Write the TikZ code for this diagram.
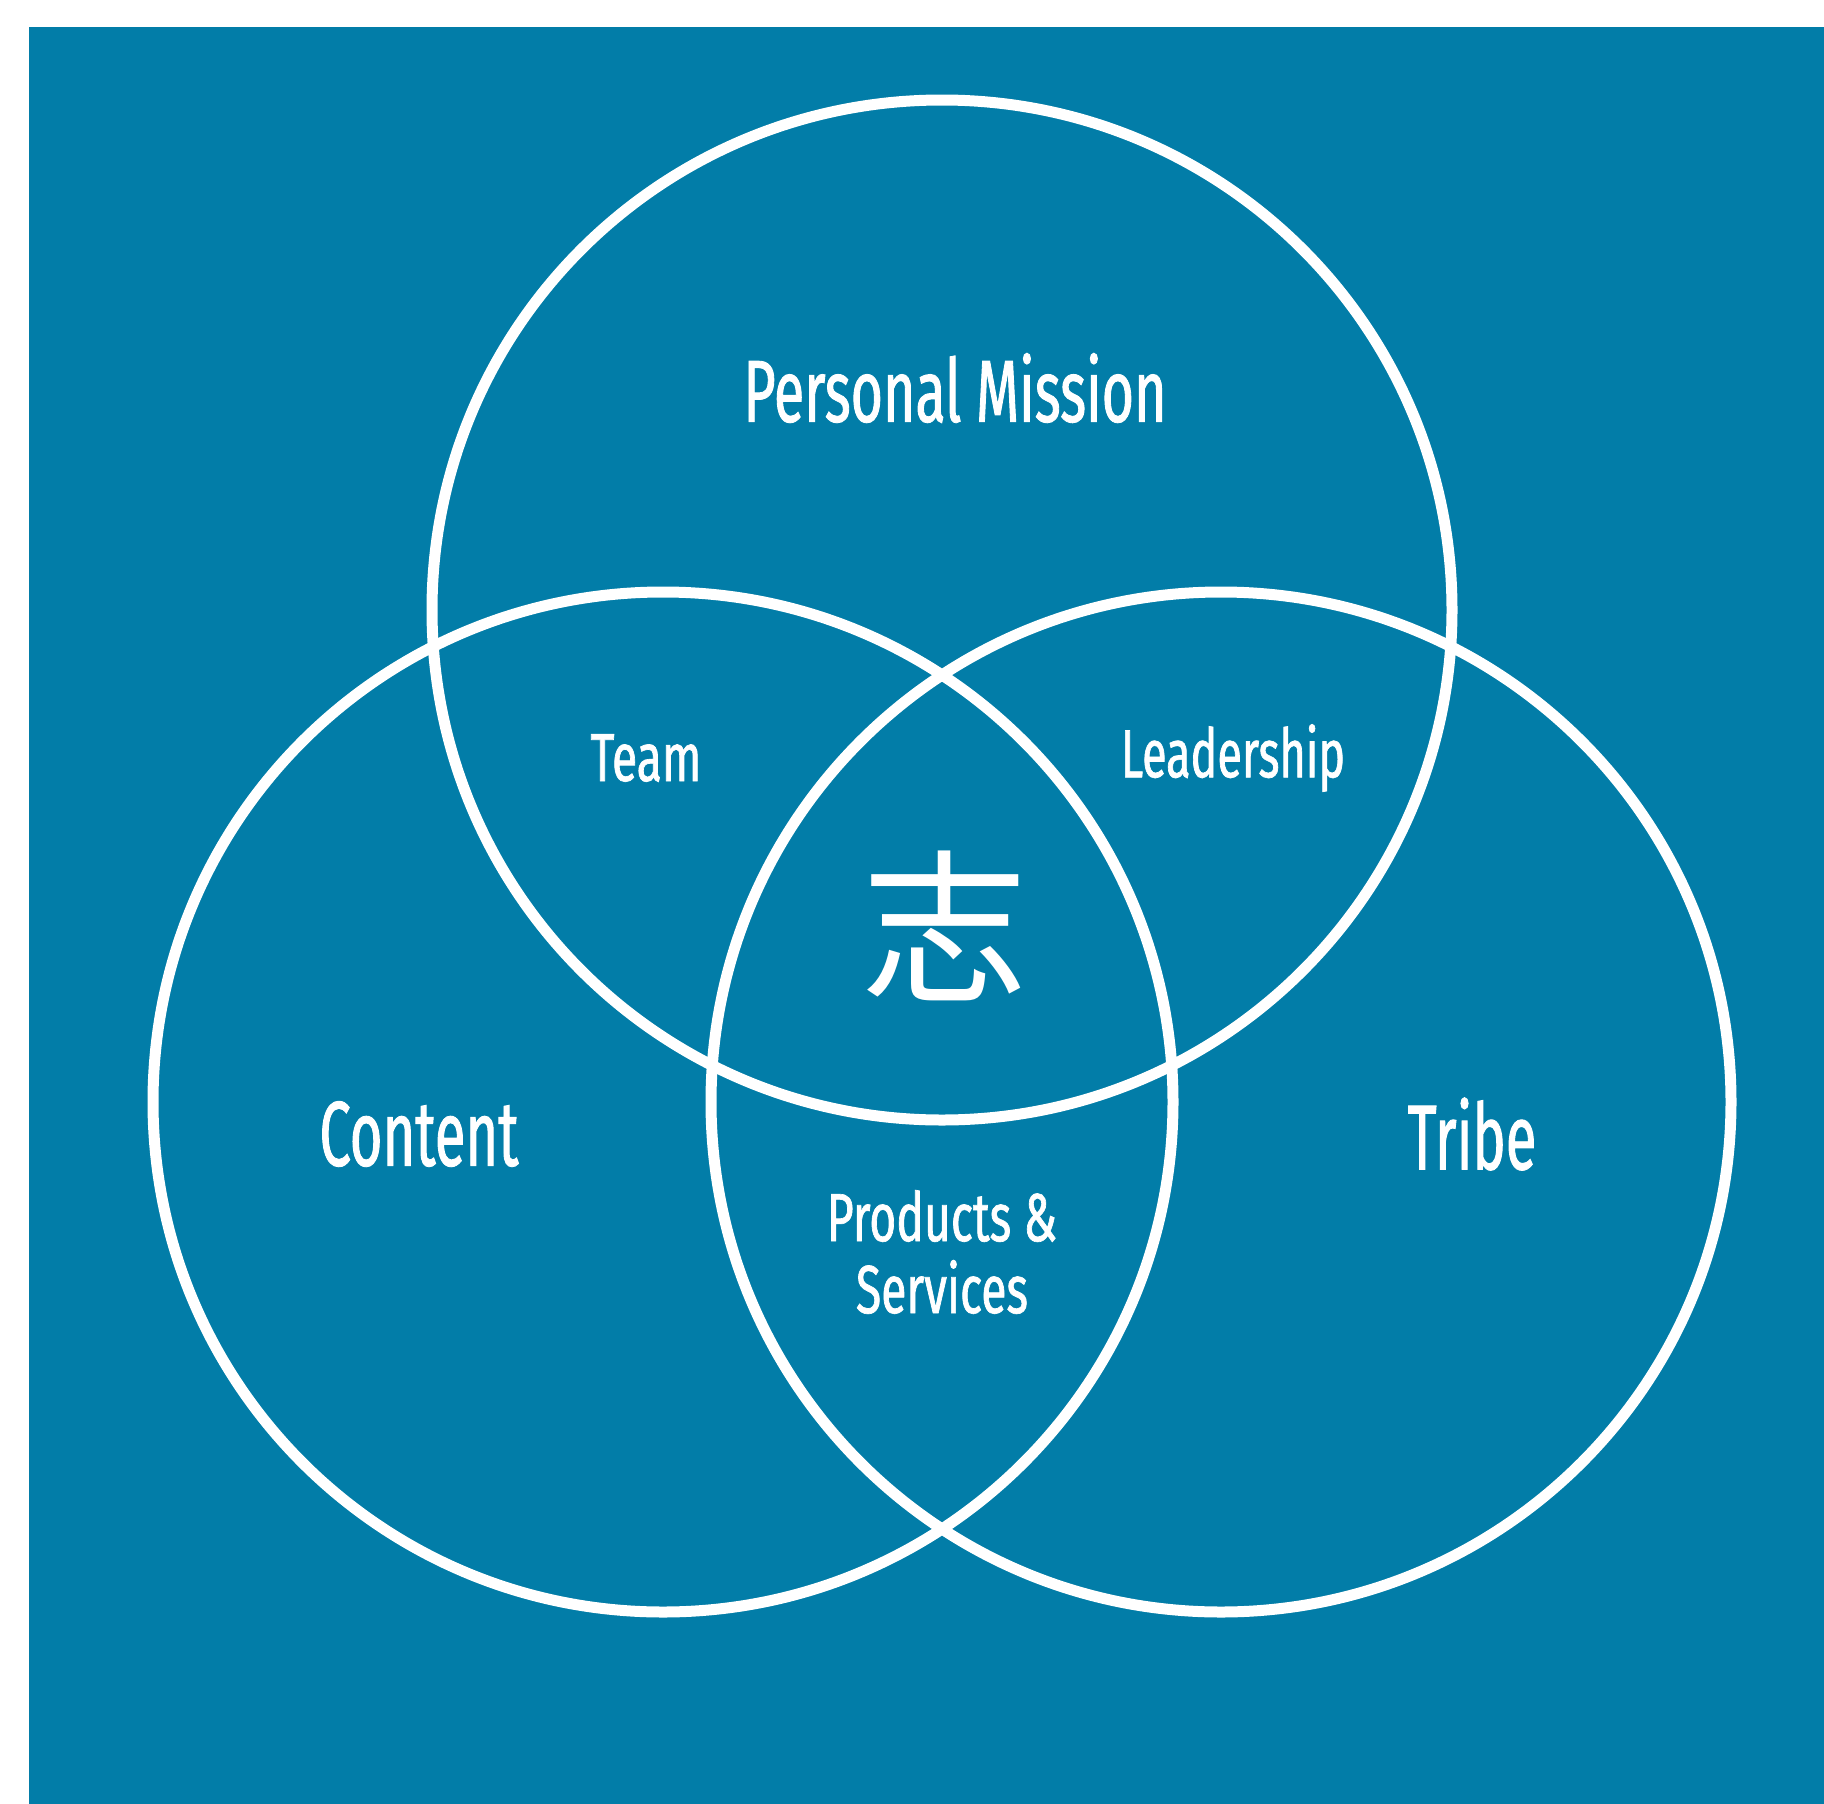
\documentclass[tikz,border=0pt]{standalone}
\usepackage{fontspec}
\setmainfont{Fira Sans}
\newfontfamily\condA[FakeStretch=0.63,FakeBold=1]{Fira Sans}
\newfontfamily\condB[FakeStretch=0.61,FakeBold=1]{Fira Sans}
\newfontfamily\condC[FakeStretch=0.66,FakeBold=1]{Fira Sans}
\newfontfamily\condD[FakeStretch=0.68,FakeBold=1]{Fira Sans}
\newfontfamily\cjkfont{Noto Sans CJK JP}
\definecolor{bgblue}{HTML}{027DA8}
\begin{document}
\begin{tikzpicture}[x=1pt,y=-1pt,
  ring/.style={draw=white,line width=11pt},
  lbl/.style={text=white,inner sep=0pt,align=center}]
\useasboundingbox (0,0) rectangle (1824,1804);
\fill[bgblue] (29,27) rectangle (1824,1804);
\draw[ring] (942,610) circle[radius=510];
\draw[ring] (663,1102) circle[radius=510];
\draw[ring] (1221,1102) circle[radius=510];
\node[lbl,font=\condA\fontsize{88}{90}\selectfont] (pm) at (955,388) {Personal Mission};
\node[lbl,font=\condD\fontsize{68}{72}\selectfont] (team) at (646,758) {Team};
\node[lbl,font=\condC\fontsize{68}{72}\selectfont] (lead) at (1233,758) {Leadership};
\node[lbl,font=\condB\fontsize{92}{96}\selectfont] (cont) at (419,1134) {Content};
\node[lbl,font=\condB\fontsize{92}{96}\selectfont] (tribe) at (1472,1134) {Tribe};
\node[lbl,font=\condD\fontsize{68}{72}\selectfont] (ps) at (942,1252) {Products \&\\Services};
\node[lbl,font=\cjkfont\fontsize{165}{165}\selectfont] (zhi) at (945,926) {志};
\end{tikzpicture}
\end{document}
